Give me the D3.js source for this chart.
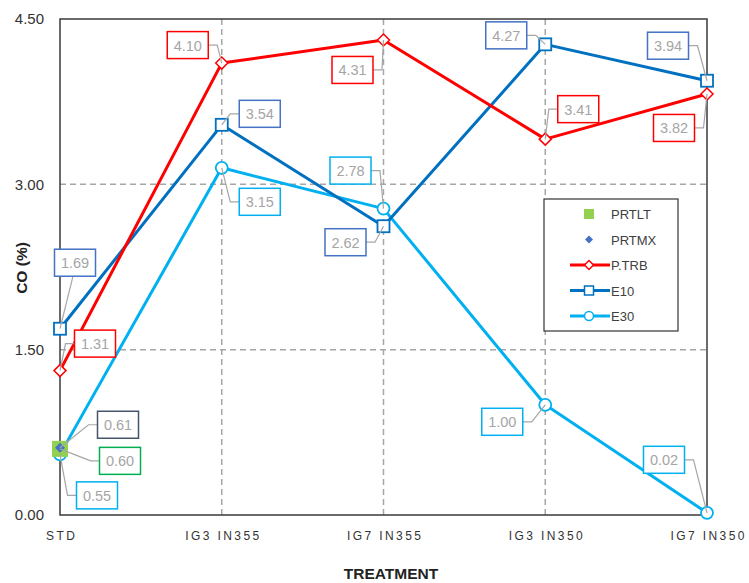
<!DOCTYPE html>
<html><head><meta charset="utf-8">
<script src="https://cdn.jsdelivr.net/npm/d3@7"></script>
<style>body{margin:0;background:#fff}svg{display:block}</style>
</head><body>
<svg id="c" width="749" height="583"></svg>
<script>
const categories = ["STD","IG3 IN355","IG7 IN355","IG3 IN350","IG7 IN350"];
const yTicks = [0, 1.5, 3, 4.5];
const prtlt = [0.60];
const prtmx = [0.61];
const ptrb = [1.31, 4.10, 4.31, 3.41, 3.82];
const e10 = [1.69, 3.54, 2.62, 4.27, 3.94];
const e30 = [0.55, 3.15, 2.78, 1.00, 0.02];

// label layout (pixel offsets of label box centre from the point, and leader side)
const lblPRTLT = [[60, 12, "l"]];
const lblPRTMX = [[58, -23, "l"]];
const lblPTRB = [[35,-27,"l"],[-34,-18,"r"],[-31,30,"r"],[33,-30,"l"],[-33,34,"r"]];
const lblE10 = [[15,-66,"b"],[38,-11,"l"],[-38,16,"r"],[-39,-9,"r"],[-39,-35,"r"]];
const lblE30 = [[37,41,"l"],[38,34,"l"],[-33,-38,"r"],[-43,17,"r"],[-43,-53,"r"]];

const series = [
  {name:"E30", vals:e30, color:"#00B0F0", marker:"circle", lbl:lblE30, border:"#00B0F0"},
  {name:"E10", vals:e10, color:"#0070C0", marker:"square", lbl:lblE10, border:"#4472C4"},
  {name:"P.TRB", vals:ptrb, color:"#FF0000", marker:"diamond", lbl:lblPTRB, border:"#FF0000"},
  {name:"PRTLT", vals:prtlt, color:"#92D050", marker:"bigsquare", lbl:lblPRTLT, border:"#00B050"},
  {name:"PRTMX", vals:prtmx, color:"#4472C4", marker:"smalldiamond", lbl:lblPRTMX, border:"#44546A"}
];
const legendOrder = ["PRTLT","PRTMX","P.TRB","E10","E30"];

const svg = d3.select("#c");
const L=60, R=707, T=19, B=515;
const x = d3.scalePoint().domain(categories).range([L,R]).padding(0);
const y = d3.scaleLinear().domain([0,4.5]).range([B,T]);

// grid
const g = svg.append("g");
g.selectAll("line.hg").data(yTicks.filter(v=>v>0&&v<4.5)).join("line")
  .attr("x1",L).attr("x2",R).attr("y1",d=>y(d)).attr("y2",d=>y(d))
  .attr("stroke","#a6a6a6").attr("stroke-width",1.5).attr("stroke-dasharray","6,4");
g.selectAll("line.vg").data(categories.slice(1,-1)).join("line")
  .attr("x1",d=>x(d)).attr("x2",d=>x(d)).attr("y1",T).attr("y2",B)
  .attr("stroke","#a6a6a6").attr("stroke-width",1.5).attr("stroke-dasharray","6,4");

// frame
svg.append("rect").attr("x",L).attr("y",T).attr("width",R-L).attr("height",B-T)
  .attr("fill","none").attr("stroke","#3a3a3a").attr("stroke-width",1.5);

// axes
const yAxis = svg.append("g").attr("transform",`translate(${L},0)`)
  .call(d3.axisLeft(y).tickValues(yTicks).tickFormat(d3.format(".2f")).tickSize(0).tickPadding(16));
yAxis.select(".domain").remove();
yAxis.selectAll("text").attr("font-family","Liberation Sans, Arial, sans-serif").attr("font-size",15).attr("fill","#333");

const xAxis = svg.append("g").attr("transform",`translate(0,${B})`)
  .call(d3.axisBottom(x).tickSize(0).tickPadding(16));
xAxis.select(".domain").remove();
xAxis.selectAll("text").attr("font-family","Liberation Sans, Arial, sans-serif").attr("font-size",12)
  .attr("fill","#333").attr("letter-spacing","2.4px").attr("dx","1.2px");

// titles
svg.append("text").attr("x",391).attr("y",579).attr("text-anchor","middle")
  .attr("font-family","Liberation Sans, Arial, sans-serif").attr("font-weight","bold").attr("font-size",15.5)
  .attr("fill","#222").text("TREATMENT");
svg.append("text").attr("transform","translate(27,268) rotate(-90)").attr("text-anchor","middle")
  .attr("font-family","Liberation Sans, Arial, sans-serif").attr("font-weight","bold").attr("font-size",15.5)
  .attr("fill","#222").text("CO (%)");

function drawMarker(sel, type, color, cx, cy){
  if(type==="circle") sel.append("circle").attr("cx",cx).attr("cy",cy).attr("r",6)
    .attr("fill","#fff").attr("stroke",color).attr("stroke-width",1.8);
  else if(type==="square") sel.append("rect").attr("x",cx-6).attr("y",cy-6).attr("width",12).attr("height",12)
    .attr("fill","#fff").attr("stroke",color).attr("stroke-width",1.8);
  else if(type==="diamond") sel.append("path").attr("d",`M${cx},${cy-6}L${cx+6},${cy}L${cx},${cy+6}L${cx-6},${cy}Z`)
    .attr("fill","#fff").attr("stroke",color).attr("stroke-width",1.5);
  else if(type==="bigsquare") sel.append("rect").attr("x",cx-8).attr("y",cy-8).attr("width",16).attr("height",16)
    .attr("fill",color);
  else if(type==="smalldiamond") sel.append("path").attr("d",`M${cx},${cy-5}L${cx+5},${cy}L${cx},${cy+5}L${cx-5},${cy}Z`)
    .attr("fill",color);
}

// lines + markers
const line = d3.line().x((d,i)=>x(categories[i])).y(d=>y(d));
const plot = svg.append("g");
series.forEach(s=>{
  if(s.vals.length>1){
    plot.append("path").datum(s.vals).attr("d",line).attr("fill","none")
      .attr("stroke",s.color).attr("stroke-width",3).attr("stroke-linejoin","round");
  }
});
series.forEach(s=>{
  s.vals.forEach((v,i)=>drawMarker(plot, s.marker, s.color, x(categories[i]), y(v)));
});

// data labels
const lab = svg.append("g");
const BW=41, BH=27;
series.forEach(s=>{
  s.vals.forEach((v,i)=>{
    const px=x(categories[i]), py=y(v);
    const [dx,dy,side]=s.lbl[i];
    const bx=px+dx, by=py+dy;
    let pts;
    if(side==="r") pts=[[bx+BW/2,by],[bx+BW/2+9,by],[px,py]];
    else if(side==="l") pts=[[bx-BW/2,by],[bx-BW/2-9,by],[px,py]];
    else pts=[[bx-2,by+BH/2],[px,py]];
    lab.append("path").attr("d",d3.line()(pts)).attr("fill","none")
      .attr("stroke","#a6a6a6").attr("stroke-width",1.2);
    lab.append("rect").attr("x",bx-BW/2).attr("y",by-BH/2).attr("width",BW).attr("height",BH)
      .attr("fill","#fff").attr("stroke",s.border).attr("stroke-width",1.5);
    lab.append("text").attr("x",bx).attr("y",by+5.5).attr("text-anchor","middle")
      .attr("font-family","Liberation Sans, Arial, sans-serif").attr("font-size",14.5)
      .attr("fill","#a5a5a5").text(d3.format(".2f")(v));
  });
});

// legend
const lg = svg.append("g");
lg.append("rect").attr("x",544).attr("y",199).attr("width",134).attr("height",132)
  .attr("fill","#fff").attr("stroke","#333").attr("stroke-width",1.2);
legendOrder.forEach((n,k)=>{
  const s = series.find(q=>q.name===n);
  const cy = 214 + k*25.5;
  if(s.vals.length>1){
    lg.append("line").attr("x1",570).attr("x2",610).attr("y1",cy).attr("y2",cy)
      .attr("stroke",s.color).attr("stroke-width",3);
  }
  if(s.marker==="bigsquare") lg.append("rect").attr("x",584).attr("y",cy-5).attr("width",10).attr("height",10).attr("fill",s.color);
  else if(s.marker==="smalldiamond") lg.append("path").attr("d",`M589,${cy-4}L593,${cy}L589,${cy+4}L585,${cy}Z`).attr("fill",s.color);
  else {
    const m = lg.append("g");
    if(s.marker==="circle") m.append("circle").attr("cx",589).attr("cy",cy).attr("r",4.5).attr("fill","#fff").attr("stroke",s.color).attr("stroke-width",1.5);
    else if(s.marker==="square") m.append("rect").attr("x",584.5).attr("y",cy-4.5).attr("width",9).attr("height",9).attr("fill","#fff").attr("stroke",s.color).attr("stroke-width",1.5);
    else m.append("path").attr("d",`M589,${cy-4.5}L593.5,${cy}L589,${cy+4.5}L584.5,${cy}Z`).attr("fill","#fff").attr("stroke",s.color).attr("stroke-width",1.5);
  }
  lg.append("text").attr("x",611).attr("y",cy+5).attr("font-family","Liberation Sans, Arial, sans-serif")
    .attr("font-size",13).attr("fill","#404040").text(n);
});
</script>
</body></html>
